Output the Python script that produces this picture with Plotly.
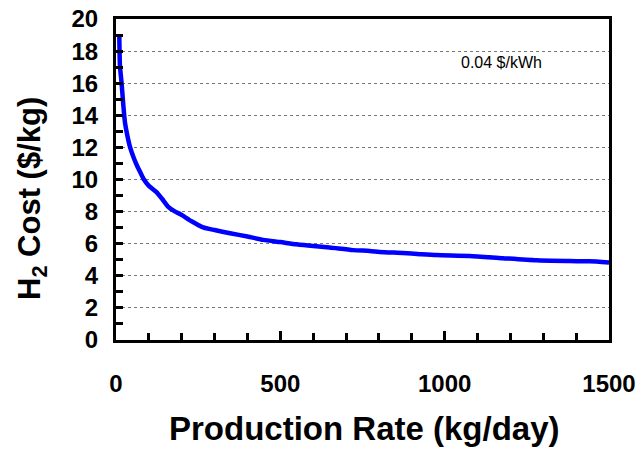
import plotly.graph_objects as go

# Data
production_rate = [10, 12, 17, 22, 27, 35, 43, 53, 63, 75, 85, 100, 124, 140, 159, 180, 195,
                   230, 265, 300, 347, 400, 448, 500, 549, 600, 650, 721, 772, 802, 873, 925,
                   975, 1076, 1177, 1279, 1380, 1440, 1500]
h2_cost = [19.0, 17.1, 16.0, 14.7, 13.6, 12.7, 12.0, 11.4, 10.9, 10.4, 10.0, 9.6, 9.2, 8.8, 8.3,
           8.0, 7.85, 7.4, 7.02, 6.85, 6.65, 6.45, 6.24, 6.1, 5.96, 5.85, 5.76, 5.6, 5.55, 5.49,
           5.42, 5.35, 5.29, 5.24, 5.1, 4.97, 4.92, 4.9, 4.83]

x_ticks = [0, 500, 1000, 1500]
y_ticks = [0, 2, 4, 6, 8, 10, 12, 14, 16, 18, 20]
note_text = "0.04 $/kWh"
note_pos = (1174, 17.3)

FONT = "Liberation Sans, Arial, sans-serif"

fig = go.Figure()
fig.add_trace(go.Scatter(x=production_rate, y=h2_cost, mode="lines",
                         line=dict(color="#0000FF", width=4.5, shape="spline", smoothing=0.6),
                         showlegend=False))

fig.update_layout(
    width=643, height=449,
    margin=dict(l=116, r=34, t=19, b=109),
    paper_bgcolor="white", plot_bgcolor="white",
    font=dict(family=FONT, color="black"),
    xaxis=dict(range=[0, 1500], tickvals=x_ticks, ticks="inside", ticklen=9, tickwidth=3,
               tickcolor="black", showline=True, linewidth=3, linecolor="black", mirror=True,
               showgrid=False, zeroline=False, automargin=False,
               tickfont=dict(family=FONT, size=24, weight="bold"), ticklabelstandoff=20,
               minor=dict(tickvals=list(range(100, 1500, 100)), ticks="inside", ticklen=7,
                          tickwidth=3, tickcolor="black", showgrid=False)),
    yaxis=dict(range=[0, 20], tickvals=y_ticks, ticks="inside", ticklen=7, tickwidth=3,
               tickcolor="black", showline=True, linewidth=3, linecolor="black", mirror=True,
               showgrid=True, gridcolor="#777777", gridwidth=1, griddash="dot", zeroline=False,
               automargin=False,
               tickfont=dict(family=FONT, size=24, weight="bold"), ticklabelstandoff=10,
               minor=dict(dtick=1, ticks="inside", ticklen=7, tickwidth=3, tickcolor="black",
                          showgrid=False)),
    annotations=[
        dict(x=note_pos[0], y=note_pos[1], xref="x", yref="y", text=note_text, showarrow=False,
             font=dict(family=FONT, size=16, color="black")),
        dict(x=0.505, y=-0.276, xref="paper", yref="paper", text="Production Rate (kg/day)",
             showarrow=False, xanchor="center", yanchor="middle",
             font=dict(family=FONT, size=33, weight="bold")),
        dict(x=-0.17, y=0.44, xref="paper", yref="paper", text="H<sub>2</sub> Cost ($/kg)",
             showarrow=False, xanchor="center", yanchor="middle", textangle=-90,
             font=dict(family=FONT, size=31, weight="bold")),
    ],
)

fig.write_html("out.html", config={"displayModeBar": False},
               post_script="document.body.style.margin='0';document.body.style.overflow='hidden';")
